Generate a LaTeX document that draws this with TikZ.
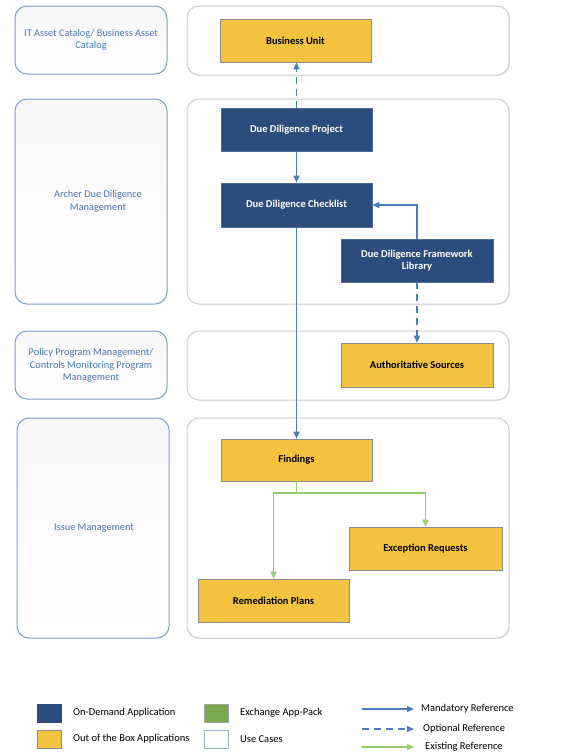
\documentclass[tikz,border=0pt]{standalone}
\usepackage{fontspec}
\setmainfont{Carlito}
\usetikzlibrary{arrows.meta,positioning,shadows}
\definecolor{dblue}{HTML}{2C4D7C}
\definecolor{dblueb}{HTML}{4B6E9E}
\definecolor{yel}{HTML}{F3C23F}
\definecolor{yelb}{HTML}{8C8C8C}
\definecolor{conn}{HTML}{4A7EBB}
\definecolor{grn}{HTML}{9BCB6B}
\definecolor{grnfill}{HTML}{78A94C}
\definecolor{ucb}{HTML}{7F9FCC}
\definecolor{uctext}{HTML}{4A78B8}
\definecolor{grpb}{HTML}{CFCFCF}
\tikzset{
  x=1pt, y=-1pt,
  usecase/.style={draw=ucb, line width=1pt, rounded corners=12pt, top color=blue!4!gray!6, bottom color=white},
  grp/.style={draw=grpb, line width=1pt, rounded corners=12pt, fill=white, drop shadow={shadow xshift=1pt, shadow yshift=-1pt, opacity=0.15}},
  uclabel/.style={text=uctext, font=\fontsize{10.3}{12.5}\selectfont, align=center},
  odapp/.style={draw=dblueb, line width=0.6pt, fill=dblue, text=white, font=\fontsize{10.5}{12.5}\selectfont\bfseries, align=center, inner sep=0pt},
  oobapp/.style={draw=yelb, line width=0.6pt, fill=yel, text=black, font=\fontsize{10.5}{12.5}\selectfont\bfseries, align=center, inner sep=0pt},
  mand/.style={draw=conn, line width=1.2pt, -{Triangle[length=7pt,width=6pt]}},
  opt/.style={mand, dash pattern=on 7pt off 5pt},
  exist/.style={draw=grn, line width=1.2pt, -{Triangle[length=7pt,width=6pt]}},
  legsq/.style={minimum width=24pt, minimum height=18pt, inner sep=0pt, line width=0.8pt},
  legtext/.style={font=\fontsize{10.5}{12}\selectfont, anchor=west, inner sep=0pt},
}
\begin{document}
\begin{tikzpicture}
\useasboundingbox (0,0) rectangle (561,756);
\fill[white] (0,0) rectangle (561,756);

% groups on the right
\draw[grp] (187,6) rectangle (509,75);
\draw[grp] (187,99) rectangle (509,304);
\draw[grp] (187,331) rectangle (509,400);
\draw[grp] (187,418) rectangle (509,638);

% use cases on the left
\draw[usecase] (15,6) rectangle (167,74);
\draw[usecase] (15,99) rectangle (167,304);
\draw[usecase] (15,331) rectangle (167,399);
\draw[usecase] (17,418) rectangle (169,638);

\node[uclabel] (uc1) at (91,40) {IT Asset Catalog/ Business Asset\\Catalog};
\node[uclabel] (uc2) at (98,201.5) {Archer Due Diligence\\Management};
\node[uclabel] (uc3) at (91,365.5) {Policy Program Management/\\Controls Monitoring Program\\Management};
\node[uclabel] (uc4) at (94,528) {Issue Management};

% applications
\node[oobapp, minimum width=151pt, minimum height=43pt] (bu) at (295.5,40.5) {Business Unit};
\node[odapp, minimum width=151pt, minimum height=43pt] (ddp) at (296.5,129.5) {Due Diligence Project};
\node[odapp, minimum width=151pt, minimum height=44pt] (ddc) at (296.5,205) {Due Diligence Checklist};
\node[odapp, minimum width=152pt, minimum height=43pt] (ddfl) at (417,260.5) {Due Diligence Framework\\Library};
\node[oobapp, minimum width=152pt, minimum height=44pt] (as) at (417,365) {Authoritative Sources};
\node[oobapp, minimum width=151pt, minimum height=42pt] (fin) at (296.5,460) {Findings};
\node[oobapp, minimum width=153pt, minimum height=43pt] (er) at (425.5,548.5) {Exception Requests};
\node[oobapp, minimum width=151pt, minimum height=43pt] (rp) at (273.5,600.5) {Remediation Plans};

% connectors
\draw[opt] (ddp.north) -- (ddp.north |- bu.south);
\draw[mand] (ddp.south) -- (ddc.north);
\draw[mand] (ddfl.north) |- (ddc.east);
\draw[opt] (ddfl.south) -- (as.north);
\draw[mand] (ddc.south) -- (fin.north);
\coordinate (split) at (296.5,493);
\draw[exist] (fin.south) -- (split) -| (rp.north);
\draw[exist] (split) -| (er.north);

% legend
\node[legsq, draw=dblue, fill=dblue] (lg1) at (49.5,713) {};
\node[legsq, draw=yelb, fill=yel] (lg2) at (49.5,739) {};
\node[legsq, draw=gray!70, fill=grnfill] (lg3) at (216,713) {};
\node[legsq, draw=ucb!80, fill=white] (lg4) at (216,739) {};
\node[legtext] (lt1) at (73,713) {On-Demand Application};
\node[legtext] (lt2) at (73,739) {Out of the Box Applications};
\node[legtext] (lt3) at (240,713) {Exchange App-Pack};
\node[legtext] (lt4) at (240,739) {Use Cases};

\coordinate (m1) at (362,709);
\coordinate (m2) at (414,709);
\coordinate (o1) at (362,729);
\coordinate (o2) at (414,729);
\coordinate (e1) at (362,747);
\coordinate (e2) at (414,747);
\draw[mand] (m1) -- (m2);
\draw[opt] (o1) -- (o2);
\draw[exist] (e1) -- (e2);
\node[legtext] (lr1) at (421,709) {Mandatory Reference};
\node[legtext] (lr2) at (423,729) {Optional Reference};
\node[legtext] (lr3) at (425,747) {Existing Reference};
\end{tikzpicture}
\end{document}
